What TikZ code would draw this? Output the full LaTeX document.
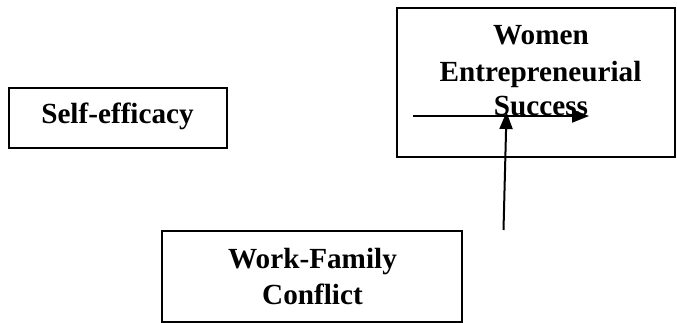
\documentclass[tikz,border=0pt]{standalone}
\usepackage{fontspec}
\setmainfont{Liberation Serif}
\usetikzlibrary{arrows.meta}
\begin{document}
\begin{tikzpicture}[x=1pt,y=-1pt,
  boxstyle/.style={draw,line width=2pt,inner sep=0pt},
  labelstyle/.style={font=\fontsize{29.2}{36}\selectfont\bfseries,align=center,inner sep=0pt},
  arrowstyle/.style={line width=2pt,-{Triangle[length=17pt,width=13pt]}}]
\useasboundingbox (0,0) rectangle (677,323);
% boxes
\node[boxstyle,minimum width=218pt,minimum height=60pt] (se) at (118,118) {};
\node[boxstyle,minimum width=278pt,minimum height=149pt] (wes) at (536,82.5) {};
\node[boxstyle,minimum width=300pt,minimum height=91pt] (wfc) at (312,276.5) {};
% labels
\node[labelstyle,anchor=base] (setext) at (117.5,123.3) {Self-efficacy};
\node[labelstyle,anchor=base] (wes1) at (541,45) {Women};
\node[labelstyle,anchor=base] (wes2) at (540.5,82) {Entrepreneurial};
\node[labelstyle,anchor=base] (wes3) at (541,116) {Success};
\node[labelstyle,anchor=base] (wfc1) at (312.5,268) {Work-Family};
\node[labelstyle,anchor=base] (wfc2) at (312.5,304.5) {Conflict};
% connectors
\coordinate (hstart) at (413,116);
\coordinate (hend) at (589,116);
\coordinate (vstart) at (503.5,230);
\coordinate (vend) at (506.5,112);
\draw[arrowstyle] (hstart) -- (hend);
\draw[arrowstyle] (vstart) -- (vend);
\end{tikzpicture}
\end{document}
